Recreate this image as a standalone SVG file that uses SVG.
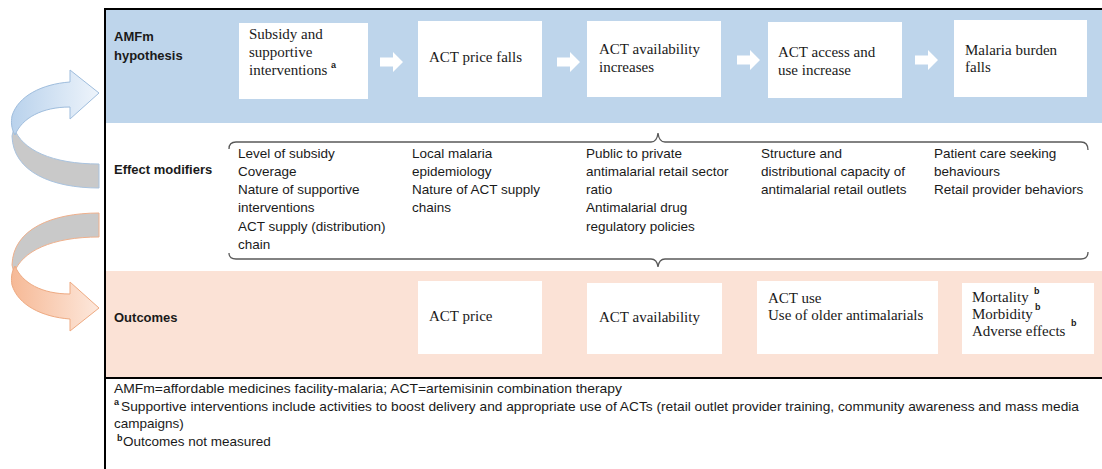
<svg xmlns="http://www.w3.org/2000/svg" width="1102" height="469" viewBox="0 0 1102 469">
<style>
.lbl{font-family:"Liberation Sans",Arial,sans-serif;font-weight:bold;font-size:13px;fill:#1a1a1a}
.box{fill:#ffffff}
.bt{font-family:"Liberation Serif","Times New Roman",serif;font-size:15px;fill:#1a1a1a}
.mt{font-family:"Liberation Sans",Arial,sans-serif;font-size:13.5px;fill:#1a1a1a}
.ft{font-family:"Liberation Sans",Arial,sans-serif;font-size:13.5px;fill:#1a1a1a}
.sup{font-family:"Liberation Sans",Arial,sans-serif;font-weight:bold;font-size:9px;fill:#1a1a1a}
.brace{fill:none;stroke:#595959;stroke-width:1.3}
.warr{fill:#ffffff}
</style>
<defs>
<linearGradient id="gb" x1="0" y1="0" x2="1" y2="0">
<stop offset="0" stop-color="#b9d2ec"/>
<stop offset="1" stop-color="#eef4fb"/>
</linearGradient>
<linearGradient id="go" x1="0" y1="0" x2="1" y2="0">
<stop offset="0" stop-color="#f6b996"/>
<stop offset="1" stop-color="#fde8dc"/>
</linearGradient>
<path id="w" d="M0,-4.5 L13,-4.5 L13,-10 L23,0 L13,10 L13,4.5 L0,4.5 Z"/>
</defs>

<!-- bands -->
<rect x="106" y="10" width="996" height="113" fill="#bed5eb"/>
<rect x="106" y="123" width="996" height="148" fill="#ffffff"/>
<rect x="106" y="271" width="996" height="106" fill="#fbe2d6"/>
<!-- frame -->
<line x1="104" y1="9" x2="1102" y2="9" stroke="#000" stroke-width="2"/>
<line x1="105" y1="8" x2="105" y2="469" stroke="#000" stroke-width="2"/>
<line x1="104" y1="378" x2="1102" y2="378" stroke="#000" stroke-width="2.2"/>

<!-- left curved arrows -->
<g id="loop-up">
<path d="M14,128 C22,150 52,164 99,164 L99,188 C52,188 13,172 12,136 Z" fill="#c9c9c9" stroke="#a9c3df" stroke-width="1"/>
<path d="M70,82 L70,70 L99,93 L70,119 L70,107 C42,107 22,118 15,135 C11,128 11,122 12,116 C18,96 42,84 70,82 Z" fill="url(#gb)" stroke="#9fbddd" stroke-width="1"/>
</g>
<g id="loop-down" transform="matrix(1,0,0,-1,0,401)">
<path d="M14,128 C22,150 52,164 99,164 L99,188 C52,188 13,172 12,136 Z" fill="#c9c9c9" stroke="#efb08c" stroke-width="1"/>
<path d="M70,82 L70,70 L99,93 L70,119 L70,107 C42,107 22,118 15,135 C11,128 11,122 12,116 C18,96 42,84 70,82 Z" fill="url(#go)" stroke="#eeaa82" stroke-width="1"/>
</g>

<!-- row labels -->
<g id="row-labels">
<text class="lbl" x="114" y="41">AMFm</text>
<text class="lbl" x="114" y="60">hypothesis</text>
<text class="lbl" x="114" y="174">Effect modifiers</text>
<text class="lbl" x="114" y="322">Outcomes</text>
</g>

<!-- hypothesis nodes -->
<g id="h1"><rect class="box" x="239" y="23" width="129" height="76"/>
<text class="bt" x="249" y="39">Subsidy and</text>
<text class="bt" x="249" y="57">supportive</text>
<text class="bt" x="249" y="75">interventions</text>
<text class="sup" x="331" y="68">a</text></g>
<g id="h2"><rect class="box" x="418" y="21" width="124" height="76"/>
<text class="bt" x="429" y="62">ACT price falls</text></g>
<g id="h3"><rect class="box" x="587" y="21" width="134" height="76"/>
<text class="bt" x="599" y="54">ACT availability</text>
<text class="bt" x="599" y="72">increases</text></g>
<g id="h4"><rect class="box" x="768" y="22" width="134" height="76"/>
<text class="bt" x="778" y="57">ACT access and</text>
<text class="bt" x="778" y="75">use increase</text></g>
<g id="h5"><rect class="box" x="954" y="20" width="133" height="77"/>
<text class="bt" x="965" y="55">Malaria burden</text>
<text class="bt" x="965" y="72">falls</text></g>

<!-- connectors -->
<g id="connectors">
<use href="#w" class="warr" transform="translate(380,62)"/>
<use href="#w" class="warr" transform="translate(557,62)"/>
<use href="#w" class="warr" transform="translate(737,60)"/>
<use href="#w" class="warr" transform="translate(915,60)"/>
<path class="brace" d="M229,149 Q229,142 236,142 L651,142 Q657,142 658,133 Q659,142 665,142 L1081,142 Q1088,142 1088,150"/>
<path class="brace" d="M229,253 Q229,259 236,259 L651,259 Q657,259 658,267 Q659,259 665,259 L1081,259 Q1088,259 1088,252"/>
</g>

<!-- effect modifiers -->
<g id="m1">
<text class="mt" x="238" y="158">Level of subsidy</text>
<text class="mt" x="238" y="176">Coverage</text>
<text class="mt" x="238" y="194">Nature of supportive</text>
<text class="mt" x="238" y="212">interventions</text>
<text class="mt" x="238" y="231">ACT supply (distribution)</text>
<text class="mt" x="238" y="249">chain</text>
</g>
<g id="m2">
<text class="mt" x="412" y="158">Local malaria</text>
<text class="mt" x="412" y="176">epidemiology</text>
<text class="mt" x="412" y="194">Nature of ACT supply</text>
<text class="mt" x="412" y="212">chains</text>
</g>
<g id="m3">
<text class="mt" x="586" y="158">Public to private</text>
<text class="mt" x="586" y="176">antimalarial retail sector</text>
<text class="mt" x="586" y="194">ratio</text>
<text class="mt" x="586" y="212">Antimalarial drug</text>
<text class="mt" x="586" y="231">regulatory policies</text>
</g>
<g id="m4">
<text class="mt" x="761" y="158">Structure and</text>
<text class="mt" x="761" y="176">distributional capacity of</text>
<text class="mt" x="761" y="194">antimalarial retail outlets</text>
</g>
<g id="m5">
<text class="mt" x="934" y="158">Patient care seeking</text>
<text class="mt" x="934" y="176">behaviours</text>
<text class="mt" x="934" y="194">Retail provider behaviors</text>
</g>

<!-- outcomes -->
<g id="o1"><rect class="box" x="418" y="281" width="124" height="73"/>
<text class="bt" x="429" y="321">ACT price</text></g>
<g id="o2"><rect class="box" x="587" y="283" width="135" height="71"/>
<text class="bt" x="599" y="322">ACT availability</text></g>
<g id="o3"><rect class="box" x="757" y="281" width="181" height="73"/>
<text class="bt" x="768" y="303">ACT use</text>
<text class="bt" x="768" y="320">Use of older antimalarials</text></g>
<g id="o4"><rect class="box" x="962" y="283" width="132" height="71"/>
<text class="bt" x="972" y="302">Mortality</text>
<text class="sup" x="1034" y="294">b</text>
<text class="bt" x="972" y="319">Morbidity</text>
<text class="sup" x="1035" y="310">b</text>
<text class="bt" x="972" y="336">Adverse effects</text>
<text class="sup" x="1071" y="326">b</text></g>

<!-- footnotes -->
<g id="footnotes">
<text class="ft" x="114" y="393" textLength="508" lengthAdjust="spacingAndGlyphs">AMFm=affordable medicines facility-malaria; ACT=artemisinin combination therapy</text>
<text class="sup" x="114" y="405">a</text>
<text class="ft" x="121" y="411" textLength="958" lengthAdjust="spacingAndGlyphs">Supportive interventions include activities to boost delivery and appropriate use of ACTs (retail outlet provider training, community awareness and mass media</text>
<text class="ft" x="114" y="428">campaigns)</text>
<text class="sup" x="117" y="441">b</text>
<text class="ft" x="123" y="446">Outcomes not measured</text>
</g>
</svg>
